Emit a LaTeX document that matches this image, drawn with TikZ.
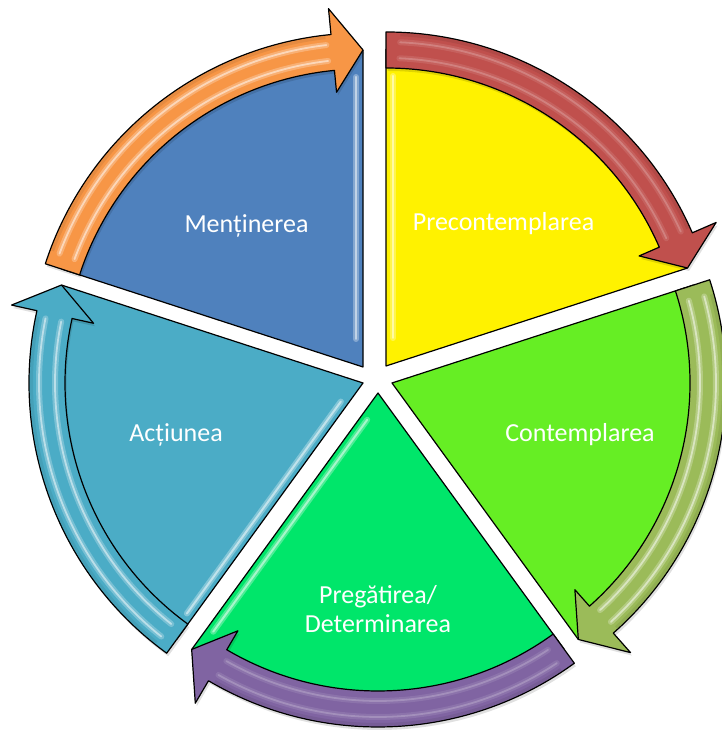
\documentclass[tikz,border=0pt]{standalone}
\usepackage{fontspec}
\setmainfont{Carlito}
\begin{document}
\begin{tikzpicture}[x=1pt,y=1pt,
  outline/.style={draw=black, line width=1.2pt, line join=round},
  txt/.style={text=white, font=\fontsize{26}{29}\selectfont, align=center, anchor=base, inner sep=0pt},
  gloss/.style={draw=white, line cap=round},
]
\useasboundingbox (0,0) rectangle (722,733);

% ring radii: wedge / arrow band / arrow head
\def\rin{298}\def\rout{334}\def\rmid{317}\def\hin{276}\def\hout{360}\def\hang{5.5}

% apex of each segment
\coordinate (Y) at (386,367);
\coordinate (G) at (392,350);
\coordinate (P) at (378,340);
\coordinate (A) at (363,350);
\coordinate (M) at (363,366);

\colorlet{cYel}{yellow}
\definecolor{cLime}{RGB}{102,238,36}
\definecolor{cSpring}{RGB}{0,230,106}
\definecolor{cTeal}{RGB}{75,172,198}
\definecolor{cBlue}{RGB}{79,129,189}
\definecolor{aRed}{RGB}{192,80,77}
\definecolor{aOlive}{RGB}{155,187,89}
\definecolor{aPurple}{RGB}{128,100,162}
\definecolor{aAqua}{RGB}{75,172,198}
\definecolor{aOrange}{RGB}{247,150,70}

% #1 apex, #2 start angle, #3 end angle, #4 fill
\newcommand\segwedge[4]{%
  \fill[#4, shift={(#1)}] (0,0) -- (#2:\rmid) arc[start angle=#2, end angle=#3, radius=\rmid] -- cycle;
  \draw[outline, shift={(#1)}] (#2:\rmid) -- (0,0) -- (#3:\rmid);
}
% arrow outline as a path: #1 start angle, #2 end angle
\newcommand\arrowpath[2]{%
  (#1:\rin) -- (#1:\rout) arc[start angle=#1, end angle=\hb, radius=\rout]
    -- (\hb:\hout) -- (#2:\rmid) -- (\hb:\hin) -- (\hb:\rin)
    arc[start angle=\hb, end angle=#1, radius=\rin] -- cycle}
% #1 apex, #2 start angle, #3 end angle, #4 colour, #5 gloss strength
\newcommand\segarrow[5]{%
  \pgfmathsetmacro\hb{#3+\hang}%
  \pgfmathsetmacro\ga{#2-2.5}%
  \pgfmathsetmacro\gb{#3+\hang+1}%
  \fill[shift={(#1)}, shift={(1.5,-3)}, black, opacity=.12] \arrowpath{#2}{#3};
  \path[shift={(#1)}, fill=#4, outline] \arrowpath{#2}{#3};
  \draw[shift={(#1)}, #4!80!black, opacity=.35, line width=3pt]
    (\ga:331.5) arc[start angle=\ga, end angle=\gb, radius=331.5];
  \foreach \r in {308,324}{
    \draw[shift={(#1)}, gloss, opacity=#5*0.25, line width=6pt]
      (\ga:\r) arc[start angle=\ga, end angle=\gb, radius=\r];
    \draw[shift={(#1)}, gloss, opacity=#5*0.5, line width=1.8pt]
      (\ga:\r) arc[start angle=\ga, end angle=\gb, radius=\r];
  }
}
% light streak along a radial edge: #1 apex, #2 edge angle, #3 inward direction
\newcommand\edgegloss[3]{%
  \draw[shift={(#1)}, shift={(#3:7)}, gloss, opacity=.3, line width=6pt] (#2:28) -- (#2:290);
  \draw[shift={(#1)}, shift={(#3:7)}, gloss, opacity=.5, line width=2pt] (#2:28) -- (#2:290);
}

% pie segments
\segwedge{Y}{90}{18}{cYel}
\segwedge{G}{18}{-54}{cLime}
\segwedge{P}{-54}{-126}{cSpring}
\segwedge{A}{-126}{-198}{cTeal}
\segwedge{M}{162}{90}{cBlue}

\edgegloss{Y}{90}{0}
\edgegloss{M}{90}{180}
\edgegloss{A}{-126}{144}
\edgegloss{P}{-126}{-36}

% circular arrows
\segarrow{Y}{90}{18}{aRed}{0.4}
\segarrow{G}{18}{-54}{aOlive}{1}
\segarrow{P}{-54}{-126}{aPurple}{0.4}
\segarrow{A}{-126}{-198}{aAqua}{1}
\segarrow{M}{162}{90}{aOrange}{1}

% labels
\node[txt] (pre) at (503.5,502) {Precontemplarea};
\node[txt] (con) at (580,291) {Contemplarea};
\node[txt] (pde) at (378,100) {Pregătirea/\\Determinarea};
\node[txt] (act) at (176,291) {Acțiunea};
\node[txt] (men) at (246.5,500) {Menținerea};
\end{tikzpicture}
\end{document}
